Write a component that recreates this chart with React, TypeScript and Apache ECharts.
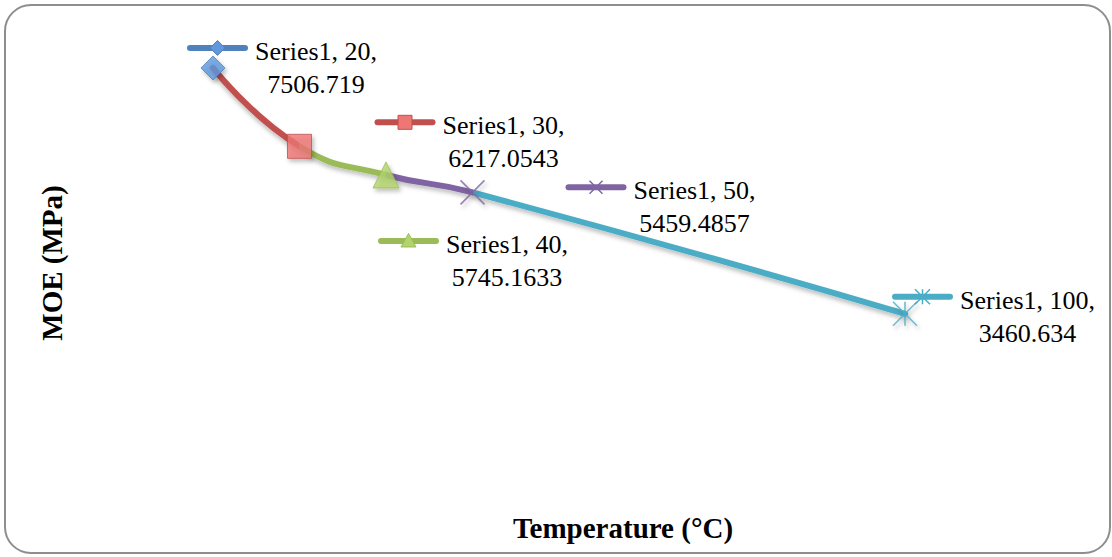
import React, { useEffect, useRef } from "react";
import * as echarts from "echarts";

// ---- data ----
const seriesName = "Series1";
const temperatures = [20, 30, 40, 50, 100];
const moeValues = [7506.719, 6217.0543, 5745.1633, 5459.4857, 3460.634];
const xTitle = "Temperature (°C)";
const yTitle = "MOE (MPa)";

// ---- styles / layout ----
const pointColors = ["#4F81BD", "#C0504D", "#9BBB59", "#8064A2", "#4BACC6"];
const markerFills = ["#5f98dd", "#ee7774", "#b2d46c", "none", "none"];
const markerKinds = ["diamond", "square", "triangle", "x", "star"];
const markerSizes = [24, 24, 26, 24, 24];
const keyMarkerSizes = [15, 14, 15, 13, 15];
// label key (left end, centre y) offset relative to the point
const labelOffsets = [
  [-23, -20],
  [78, -24],
  [-5, 66],
  [96, -5],
  [-10, -17],
];
const labelFamily = "Liberation Serif";
const labelSize = 26;

function measure(text: string): number {
  const c = document.createElement("canvas").getContext("2d");
  if (!c) return text.length * 11;
  c.font = `${labelSize}px "${labelFamily}"`;
  return c.measureText(text).width;
}

function markerPath(kind: string, cx: number, cy: number, s: number): string {
  const h = s / 2;
  switch (kind) {
    case "diamond":
      return `M${cx},${cy - h}L${cx + h},${cy}L${cx},${cy + h}L${cx - h},${cy}Z`;
    case "square":
      return `M${cx - h},${cy - h}L${cx + h},${cy - h}L${cx + h},${cy + h}L${cx - h},${cy + h}Z`;
    case "triangle":
      return `M${cx},${cy - h}L${cx + h},${cy + h * 0.8}L${cx - h},${cy + h * 0.8}Z`;
    case "x":
      return `M${cx - h},${cy - h}L${cx + h},${cy + h}M${cx + h},${cy - h}L${cx - h},${cy + h}`;
    default:
      return `M${cx - h},${cy - h}L${cx + h},${cy + h}M${cx + h},${cy - h}L${cx - h},${cy + h}M${cx},${cy - h}L${cx},${cy + h}`;
  }
}

function symbolFor(kind: string): string {
  switch (kind) {
    case "diamond":
      return "diamond";
    case "square":
      return "rect";
    case "triangle":
      return "path://M5,0L10,8L0,8Z";
    case "x":
      return "path://M0,0L10,10M10,0L0,10";
    default:
      return "path://M0,0L10,10M10,0L0,10M5,0L5,10";
  }
}

export default function App() {
  const ref = useRef<HTMLDivElement>(null);
  useEffect(() => {
    if (!ref.current) return;
    const chart = echarts.init(ref.current, null, { renderer: "svg" });
    const points = temperatures.map((t, i) => [t, moeValues[i]]);

    const option: any = {
      animation: false,
      backgroundColor: "#ffffff",
      textStyle: { fontFamily: labelFamily },
      grid: { left: 40, right: 34, top: 38, bottom: 33 },
      xAxis: { type: "value", min: 0, max: 120, show: false },
      yAxis: { type: "value", min: 0, max: 8000, show: false },
      visualMap: {
        show: false,
        type: "piecewise",
        seriesIndex: 0,
        dimension: 0,
        pieces: [
          { lte: temperatures[1], color: pointColors[1] },
          { gt: temperatures[1], lte: temperatures[2], color: pointColors[2] },
          { gt: temperatures[2], lte: temperatures[3], color: pointColors[3] },
          { gt: temperatures[3], color: pointColors[4] },
        ],
      },
      graphic: [
        {
          type: "rect",
          z: -10,
          shape: { x: 5, y: 5, width: 1105, height: 548, r: 26 },
          style: { fill: "#ffffff", stroke: "#8e8e8e", lineWidth: 2 },
        },
        {
          type: "text",
          x: 52,
          y: 263,
          rotation: Math.PI / 2,
          style: {
            text: yTitle,
            fontFamily: "Liberation Serif",
            fontWeight: "bold",
            fontSize: 29,
            fill: "#000",
            align: "center",
            verticalAlign: "middle",
          },
        },
        {
          type: "text",
          x: 623,
          y: 528,
          style: {
            text: xTitle,
            fontFamily: "Liberation Serif",
            fontWeight: "bold",
            fontSize: 29,
            fill: "#000",
            align: "center",
            verticalAlign: "middle",
          },
        },
      ],
      series: [
        {
          name: seriesName,
          type: "line",
          data: points,
          smooth: 0.5,
          showSymbol: false,
          lineStyle: {
            width: 6,
            cap: "round",
            shadowColor: "rgba(0,0,0,0.25)",
            shadowBlur: 4,
            shadowOffsetY: 3,
          },
          z: 2,
        },
        {
          name: seriesName,
          type: "scatter",
          z: 3,
          data: points.map((p, i) => {
            const stroked = markerFills[i] === "none";
            return {
              value: p,
              symbol: symbolFor(markerKinds[i]),
              symbolSize: markerSizes[i],
              itemStyle: {
                color: stroked ? "rgba(0,0,0,0)" : markerFills[i],
                borderColor: pointColors[i],
                borderWidth: stroked ? 1.6 : 1,
                shadowColor: "rgba(0,0,0,0.3)",
                shadowBlur: 4,
                shadowOffsetX: 2,
                shadowOffsetY: 3,
              },
            };
          }),
        },
        {
          name: seriesName,
          type: "custom",
          z: 4,
          data: points,
          renderItem: (params: any, api: any) => {
            const i = params.dataIndex;
            const p = api.coord([api.value(0), api.value(1)]);
            const kx = p[0] + labelOffsets[i][0];
            const ky = p[1] + labelOffsets[i][1];
            const color = pointColors[i];
            const line1 = `${seriesName}, ${temperatures[i]},`;
            const line2 = String(moeValues[i]);
            const w1 = measure(line1);
            const textLeft = kx + 65;
            const stroked = markerFills[i] === "none";
            return {
              type: "group",
              children: [
                {
                  type: "line",
                  shape: { x1: kx, y1: ky, x2: kx + 55, y2: ky },
                  style: { stroke: color, lineWidth: 6, lineCap: "round" },
                },
                {
                  type: "path",
                  shape: {
                    pathData: markerPath(markerKinds[i], kx + 27.5, ky, keyMarkerSizes[i]),
                  },
                  style: {
                    fill: stroked ? "none" : markerFills[i],
                    stroke: color,
                    lineWidth: stroked ? 1.5 : 1,
                  },
                },
                {
                  type: "text",
                  x: textLeft + w1 / 2,
                  y: ky + 20,
                  style: {
                    text: line1 + "\n" + line2,
                    font: `${labelSize}px "${labelFamily}", serif`,
                    fontFamily: labelFamily,
                    fontSize: labelSize,
                    lineHeight: 33,
                    fill: "#000",
                    align: "center",
                    verticalAlign: "middle",
                  },
                },
              ],
            };
          },
        },
      ],
    };
    chart.setOption(option);
    return () => chart.dispose();
  }, []);
  return (
    <div
      ref={ref}
      style={{ position: "fixed", left: 0, top: 0, width: 1112, height: 557 }}
    />
  );
}
